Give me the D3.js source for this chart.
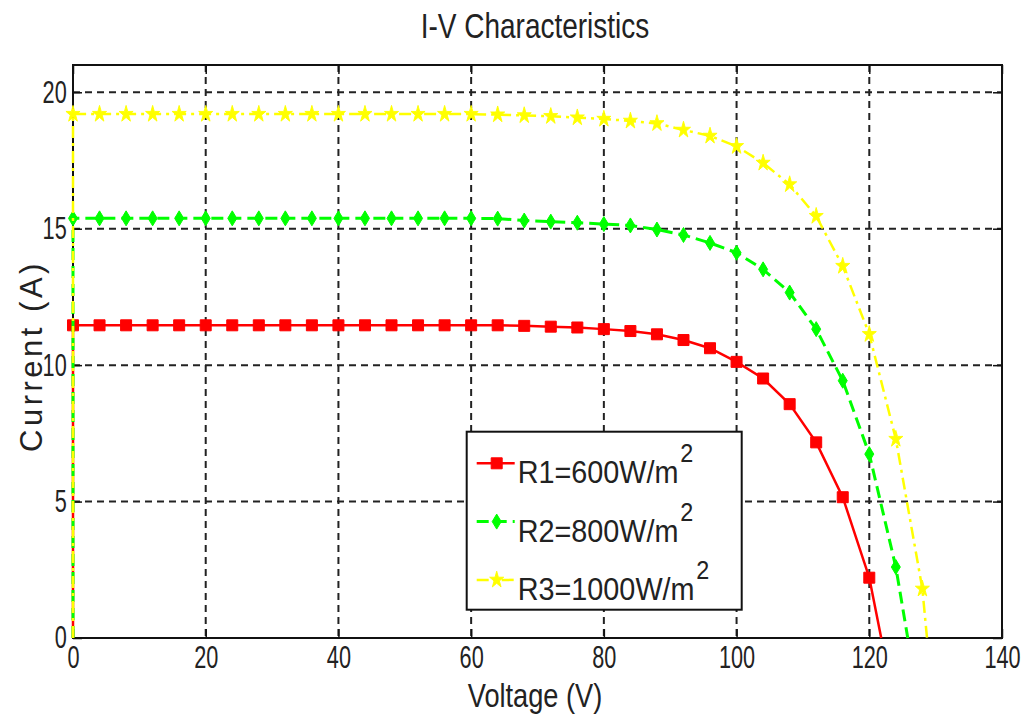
<!DOCTYPE html>
<html>
  <head>
    <meta charset="utf-8">
    <script type="text/javascript" src="https://d3js.org/d3.v7.min.js"></script>
    <title>I-V Characteristics</title>
  </head>
  <style media="screen">
    body { margin: 0; background: #fff; }
    text { font-family: "Liberation Sans", Arial, sans-serif; fill: #222; }
  </style>
  <body>

    <script type="text/javascript">

    // sample voltages (V) where the markers sit
    var voltage = [0, 4, 8, 12, 16, 20, 24, 28, 32, 36, 40, 44, 48, 52, 56, 60, 64,
                   68, 72, 76, 80, 84, 88, 92, 96, 100, 104, 108, 112, 116, 120, 124, 128];

    // current (A) for each irradiance
    var r1Current = [11.46, 11.46, 11.46, 11.46, 11.46, 11.46, 11.46, 11.46, 11.46, 11.46, 11.46,
                     11.46, 11.46, 11.46, 11.46, 11.46, 11.46, 11.44, 11.41, 11.38, 11.32, 11.25,
                     11.13, 10.92, 10.62, 10.12, 9.51, 8.57, 7.17, 5.16, 2.21];
    var r2Current = [15.38, 15.38, 15.38, 15.38, 15.38, 15.38, 15.38, 15.38, 15.38, 15.38, 15.38,
                     15.38, 15.38, 15.38, 15.38, 15.38, 15.37, 15.30, 15.26, 15.22, 15.17, 15.12,
                     14.97, 14.77, 14.48, 14.12, 13.51, 12.66, 11.32, 9.43, 6.74, 2.6];
    var r3Current = [19.2, 19.2, 19.2, 19.2, 19.2, 19.2, 19.2, 19.2, 19.2, 19.2, 19.2,
                     19.2, 19.2, 19.2, 19.2, 19.2, 19.18, 19.15, 19.12, 19.07, 19.02, 18.95,
                     18.86, 18.62, 18.4, 18.02, 17.41, 16.62, 15.46, 13.63, 11.13, 7.29, 1.8];

    // open circuit voltages (I = 0)
    var openVoltage = [121.8, 125.8, 128.7];

    var seriesNames = ["R1=600W/m", "R2=800W/m", "R3=1000W/m"];
    var xTicks = [0, 20, 40, 60, 80, 100, 120, 140];
    var yTicks = [0, 5, 10, 15, 20];

    var margin = {top: 65, right: 23, bottom: 85, left: 73},
    width = 1025 - margin.left - margin.right,
    height = 723 - margin.top - margin.bottom;

    var x = d3.scaleLinear().domain([0, 140]).range([0, width]);
    var y = d3.scaleLinear().domain([0, 21]).range([height, 0]);

    var root = d3.select("body").append("svg")
        .attr("width", 1025)
        .attr("height", 723);

    var svg = root.append("g")
        .attr("transform", "translate(" + margin.left + "," + margin.top + ")");

    // grid
    svg.append("g").selectAll("line")
        .data(xTicks.slice(1, -1))
      .enter().append("line")
        .attr("x1", function(d){ return x(d); })
        .attr("x2", function(d){ return x(d); })
        .attr("y1", 0).attr("y2", height)
        .attr("stroke", "#222").attr("stroke-width", 2)
        .attr("stroke-dasharray", "7,5");

    svg.append("g").selectAll("line")
        .data(yTicks.slice(1))
      .enter().append("line")
        .attr("y1", function(d){ return y(d); })
        .attr("y2", function(d){ return y(d); })
        .attr("x1", 0).attr("x2", width)
        .attr("stroke", "#222").attr("stroke-width", 2)
        .attr("stroke-dasharray", "7,5");

    // axes, ticks pointing inward like matlab
    var xAxis = d3.axisBottom(x).tickValues(xTicks).tickSizeInner(-9).tickSizeOuter(0).tickPadding(8);
    var yAxis = d3.axisLeft(y).tickValues(yTicks).tickSizeInner(-9).tickSizeOuter(0).tickPadding(9);

    var gx = svg.append("g")
        .attr("transform", "translate(0," + height + ")")
        .call(xAxis);
    var gy = svg.append("g")
        .call(yAxis);

    svg.append("g")
        .call(d3.axisTop(x).tickValues(xTicks).tickSizeInner(-9).tickSizeOuter(0).tickFormat(""));
    svg.append("g")
        .attr("transform", "translate(" + width + ",0)")
        .call(d3.axisRight(y).tickValues(yTicks).tickSizeInner(-9).tickSizeOuter(0).tickFormat(""));

    svg.selectAll(".domain").remove();
    svg.selectAll(".tick line").attr("stroke", "#111").attr("stroke-width", 1.5);

    gx.selectAll("text")
        .attr("font-size", 31)
        .attr("font-family", "Liberation Sans")
        .attr("fill", "#333")
        .attr("transform", "scale(0.7,1)");
    gy.selectAll("text")
        .attr("font-size", 31)
        .attr("font-family", "Liberation Sans")
        .attr("fill", "#333")
        .attr("transform", "scale(0.7,1)");

    // plot box
    svg.append("rect")
        .attr("width", width).attr("height", height)
        .attr("fill", "none")
        .attr("stroke", "#111").attr("stroke-width", 2);

    // series
    var series = [
      {name: seriesNames[0], current: r1Current, voc: openVoltage[0], color: "#ff0000", dash: null, lw: 2.5, marker: "square"},
      {name: seriesNames[1], current: r2Current, voc: openVoltage[1], color: "#00ff00", dash: "12,6", lw: 3, marker: "diamond"},
      {name: seriesNames[2], current: r3Current, voc: openVoltage[2], color: "#ffff00", dash: "12,5,3,5", lw: 2.5, marker: "star"}
    ];

    var line = d3.line()
      .x(function(d){ return x(d[0]); })
      .y(function(d){ return y(d[1]); });

    function markerPath(type) {
      if (type == "square") return d3.symbol().type(d3.symbolSquare).size(121)();
      if (type == "diamond") return "M0,-7.5L4.5,0L0,7.5L-4.5,0Z";
      return d3.symbol().type(d3.symbolStar).size(85)();
    }
    function markerScale(type) {
      return type == "star" ? " scale(0.85,1)" : "";
    }

    series.forEach(function(s) {
      var pts = s.current.map(function(c, i){ return [voltage[i], c]; });
      var linePts = [[0, 0]].concat(pts).concat([[s.voc, 0]]);

      var g = svg.append("g");
      g.append("path")
          .datum(linePts)
          .attr("d", line)
          .attr("fill", "none")
          .attr("stroke", s.color)
          .attr("stroke-width", s.lw)
          .attr("stroke-dasharray", s.dash);

      g.selectAll(".mk")
          .data(pts)
        .enter().append("path")
          .attr("class", "mk")
          .attr("d", markerPath(s.marker))
          .attr("transform", function(d){ return "translate(" + x(d[0]) + "," + y(d[1]) + ")" + markerScale(s.marker); })
          .attr("fill", s.color)
          .attr("stroke", s.color)
          .attr("stroke-width", 1);
    });

    // legend
    var lx = 466.7 - margin.left, ly = 431.7 - margin.top;
    var legend = svg.append("g").attr("transform", "translate(" + lx + "," + ly + ")");
    legend.append("rect")
        .attr("width", 275).attr("height", 178)
        .attr("fill", "#fff")
        .attr("stroke", "#111").attr("stroke-width", 2);

    series.forEach(function(s, i) {
      var row = legend.append("g").attr("transform", "translate(0," + (31.6 + i * 58.3) + ")");
      row.append("line")
          .attr("x1", 10).attr("x2", 48)
          .attr("stroke", s.color)
          .attr("stroke-width", s.lw)
          .attr("stroke-dasharray", s.dash);
      row.append("path")
          .attr("d", markerPath(s.marker))
          .attr("transform", "translate(30,0)" + markerScale(s.marker))
          .attr("fill", s.color)
          .attr("stroke", s.color);
      var t = row.append("g").attr("transform", "translate(51,20)")
        .append("text")
          .attr("transform", "scale(0.9,1)")
          .attr("font-size", 32)
          .attr("fill", "#111");
      t.append("tspan").text(s.name);
      t.append("tspan")
          .attr("font-size", 26)
          .attr("dy", -21)
          .attr("dx", 2)
          .text("2");
    });

    // titles
    root.append("g").attr("transform", "translate(535,38)")
      .append("text")
        .attr("transform", "scale(0.8,1)")
        .attr("text-anchor", "middle")
        .attr("font-size", 35)
        .text("I-V Characteristics");

    root.append("g").attr("transform", "translate(535,707)")
      .append("text")
        .attr("transform", "scale(0.8,1)")
        .attr("text-anchor", "middle")
        .attr("font-size", 34)
        .attr("fill", "#333")
        .text("Voltage (V)");

    root.append("g").attr("transform", "translate(42,356) rotate(-90)")
      .append("text")
        .attr("text-anchor", "middle")
        .attr("font-size", 31)
        .attr("letter-spacing", 3.5)
        .attr("fill", "#333")
        .text("Current (A)");

    </script>

  </body>
</html>
